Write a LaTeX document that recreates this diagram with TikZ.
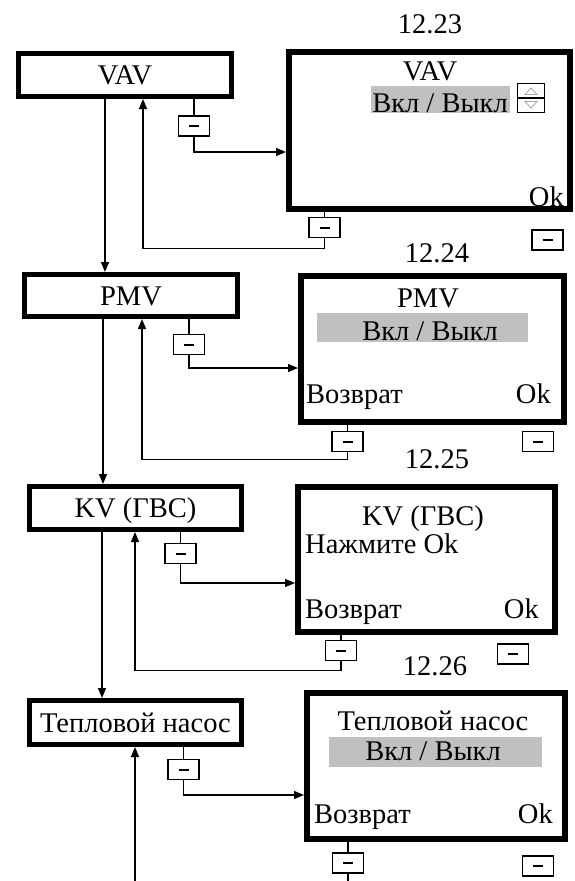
\documentclass[tikz,border=0pt]{standalone}
\usepackage{fontspec}
\setmainfont{Liberation Serif}
\usetikzlibrary{arrows.meta}
\definecolor{hl}{RGB}{192,192,192}
\definecolor{tri}{RGB}{165,165,165}
\begin{document}
\begin{tikzpicture}[x=1pt,y=-1pt,
  menubox/.style={draw, line width=5pt, inner sep=0pt, text height=19pt, text depth=0pt,
    font=\fontsize{28.5}{31}\selectfont},
  screen/.style={draw, line width=6pt, inner sep=0pt},
  keybox/.style={draw, line width=1.4pt, minimum width=31pt, minimum height=20pt, inner sep=0pt,
    path picture={\draw[line width=2pt] ([xshift=-5pt]path picture bounding box.center) -- ([xshift=5pt]path picture bounding box.center);}},
  txt/.style={inner sep=0pt, font=\fontsize{28.5}{31}\selectfont},
  conn/.style={line width=1.3pt},
  arr/.style={conn, -{Triangle[length=10pt,width=8pt]}},
]
\useasboundingbox (0,0) rectangle (574,881);

% ---------- menu boxes ----------
\node[menubox, minimum width=213pt, minimum height=43pt] (vav) at (125,75) {VAV};
\node[menubox, minimum width=213pt, minimum height=42pt] (pmv) at (131,295.5) {PMV};
\node[menubox, minimum width=212pt, minimum height=43pt] (kv) at (135.5,508) {KV (ГВС)};
\node[menubox, minimum width=212pt, minimum height=44pt] (tep) at (135.5,722.5) {Тепловой насос};

% ---------- screens ----------
\node[screen, minimum width=281pt, minimum height=157pt] (s1) at (429.5,130.5) {};
\node[screen, minimum width=263pt, minimum height=146pt] (s2) at (432.5,349) {};
\node[screen, minimum width=257pt, minimum height=145pt] (s3) at (426.5,559.5) {};
\node[screen, minimum width=258pt, minimum height=146pt] (s4) at (436,766) {};

% ---------- keys ----------
\node[keybox] (k1a) at (194,126) {};
\node[keybox] (k1b) at (324.5,227.5) {};
\node[keybox] (k1c) at (547.5,240) {};
\node[keybox] (k2a) at (189,344.5) {};
\node[keybox] (k2b) at (347.5,441.5) {};
\node[keybox] (k2c) at (538,441.5) {};
\node[keybox] (k3a) at (180.5,553.5) {};
\node[keybox] (k3b) at (341,650.5) {};
\node[keybox] (k3c) at (513,654) {};
\node[keybox] (k4a) at (183.5,769.5) {};
\node[keybox] (k4b) at (348,863) {};
\node[keybox] (k4c) at (538,866) {};

% ---------- screen labels ----------
\node[txt, anchor=base] (n1) at (430,33) {12.23};
\node[txt, anchor=base] (n2) at (437,262) {12.24};
\node[txt, anchor=base] (n3) at (437,468) {12.25};
\node[txt, anchor=base] (n4) at (435,675) {12.26};

% ---------- screen 12.23 ----------
\node[txt, anchor=base] (s1t) at (430,80) {VAV};
\fill[hl] (371,86) rectangle (510,113);
\node[txt, anchor=base] (s1v) at (440,112) {Вкл / Выкл};
\node[draw, line width=1.2pt, minimum width=27pt, minimum height=29pt, inner sep=0pt] (ud) at (531,98) {};
\draw[line width=1.2pt] (ud.west) -- (ud.east);
\draw[tri, line width=0.8pt] (525,94.5) -- (531,88) -- (537,94.5) -- cycle;
\draw[tri, line width=0.8pt] (525,101.5) -- (531,108) -- (537,101.5) -- cycle;
\node[txt, anchor=base east] (s1ok) at (564,206) {Ok};

% ---------- screen 12.24 ----------
\node[txt, anchor=base] (s2t) at (428,307) {PMV};
\fill[hl] (317,313) rectangle (528,342);
\node[txt, anchor=base] (s2v) at (430,340) {Вкл / Выкл};
\node[txt, anchor=base west] (s2b) at (306,403) {Возврат};
\node[txt, anchor=base east] (s2ok) at (551,403) {Ok};

% ---------- screen 12.25 ----------
\node[txt, anchor=base] (s3t) at (423,525) {KV (ГВС)};
\node[txt, anchor=base west] (s3p) at (305,553) {Нажмите Ok};
\node[txt, anchor=base west] (s3b) at (305,618) {Возврат};
\node[txt, anchor=base east] (s3ok) at (539,618) {Ok};

% ---------- screen 12.26 ----------
\node[txt, anchor=base] (s4t) at (433,730) {Тепловой насос};
\fill[hl] (329,737) rectangle (542,767);
\node[txt, anchor=base] (s4v) at (433,760) {Вкл / Выкл};
\node[txt, anchor=base west] (s4b) at (314,823) {Возврат};
\node[txt, anchor=base east] (s4ok) at (553,823) {Ok};

% ---------- connectors: down the menu ----------
\draw[arr] ([xshift=-20pt]vav.south) -- ([xshift=-20pt]vav.south |- pmv.north);
\draw[arr] ([xshift=-28pt]pmv.south) -- ([xshift=-28pt]pmv.south |- kv.north);
\draw[arr] ([xshift=-33.5pt]kv.south) -- ([xshift=-33.5pt]kv.south |- tep.north);

% ---------- connectors: menu -> key -> screen ----------
\draw[conn] (vav.south -| k1a.north) -- (k1a.north);
\draw[arr] (k1a.south) |- ([yshift=-21.5pt]s1.west);
\draw[conn] (pmv.south -| k2a.north) -- (k2a.north);
\draw[arr] (k2a.south) |- ([yshift=-19pt]s2.west);
\draw[conn] (kv.south -| k3a.north) -- (k3a.north);
\draw[arr] (k3a.south) |- ([yshift=-23.5pt]s3.west);
\draw[conn] (tep.south -| k4a.north) -- (k4a.north);
\draw[arr] (k4a.south) |- ([yshift=-29pt]s4.west);

% ---------- connectors: screen -> key -> back to menu ----------
\draw[conn] (s1.south -| k1b.north) -- (k1b.north);
\draw[arr] (k1b.south) -- ++(0,10) -| ([xshift=18pt]vav.south);
\draw[conn] (s2.south -| k2b.north) -- (k2b.north);
\draw[arr] (k2b.south) -- ++(0,7) -| ([xshift=11pt]pmv.south);
\draw[conn] (s3.south -| k3b.north) -- (k3b.north);
\draw[arr] (k3b.south) -- ++(0,9) -| ([xshift=-0.5pt]kv.south);
\draw[conn] (s4.south -| k4b.north) -- (k4b.north);
\coordinate (kb4) at (348,881);
\draw[conn] (k4b.south) -- (kb4);
\coordinate (bot) at (135,881);
\draw[arr] (bot) -- (bot |- tep.south);
\end{tikzpicture}
\end{document}
